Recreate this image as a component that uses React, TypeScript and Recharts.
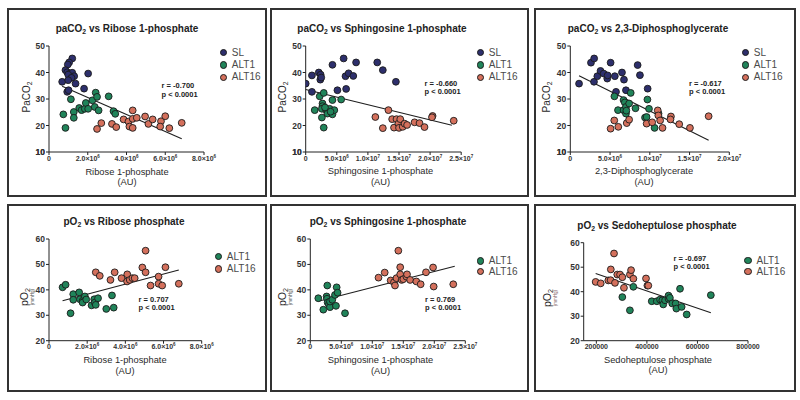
import React from 'react';
import { ScatterChart, Scatter, XAxis, YAxis, ReferenceLine } from 'recharts';

type Pair = [number, number];
type Pt = { x: number; y: number };

const FONT = '"Liberation Sans", Arial, Helvetica, sans-serif';
const C_SL = '#2d2f6c';
const C_ALT1 = '#20845a';
const C_ALT16 = '#d4705c';

// ---------- Panel 1: paCO2 vs Ribose 1-phosphate ----------
const p1SL: Pair[] = [
  [1.20e6, 45.3], [1.04e6, 43.8], [0.97e6, 43.0], [0.85e6, 40.9], [0.94e6, 40.1], [1.08e6, 39.6],
  [1.20e6, 39.9], [0.99e6, 39.2], [1.30e6, 38.6], [1.16e6, 38.0], [0.68e6, 36.5], [0.99e6, 37.1],
  [1.37e6, 35.8], [2.02e6, 39.6], [1.81e6, 33.9], [0.94e6, 32.7], [1.01e6, 33.3],
];
const p1ALT1: Pair[] = [
  [0.74e6, 24.2], [0.85e6, 19.1], [1.13e6, 29.9], [1.28e6, 25.1], [1.28e6, 22.9], [1.56e6, 26.6],
  [1.68e6, 25.8], [1.85e6, 26.3], [1.90e6, 28.5], [2.02e6, 26.3], [2.24e6, 29.5], [2.41e6, 32.4],
  [2.48e6, 30.8], [2.36e6, 27.0], [2.56e6, 25.7], [3.08e6, 31.0], [3.33e6, 25.4], [3.42e6, 24.4],
];
const p1ALT16: Pair[] = [
  [2.48e6, 18.7], [2.70e6, 20.9], [3.25e6, 20.6], [3.47e6, 19.4], [3.85e6, 22.3], [4.10e6, 21.5],
  [4.15e6, 19.6], [4.32e6, 19.1], [4.32e6, 25.7], [4.32e6, 22.5], [4.53e6, 22.9], [4.96e6, 23.4],
  [5.13e6, 20.6], [5.35e6, 22.3], [5.78e6, 21.6], [5.74e6, 19.6], [6.00e6, 23.5], [6.21e6, 19.0],
  [6.85e6, 21.0],
];
const p1Fit: Pair[] = [[0.68e6, 34.8], [6.85e6, 15.0]];

// ---------- Panel 2: paCO2 vs Sphingosine 1-phosphate ----------
const p2SL: Pair[] = [
  [0.0, 35.8], [1.0e6, 32.7], [1.0e6, 38.9], [2.1e6, 40.0], [2.4e6, 39.2], [2.35e6, 37.3],
  [2.5e6, 38.1], [4.3e6, 42.9], [5.1e6, 33.3], [6.1e6, 45.3], [6.5e6, 33.8], [6.4e6, 38.6],
  [6.9e6, 39.7], [7.65e6, 38.7], [8.1e6, 43.8], [11.5e6, 43.8], [12.4e6, 40.9], [14.5e6, 36.5],
];
const p2ALT1: Pair[] = [
  [1.45e6, 25.8], [2.25e6, 31.0], [2.9e6, 32.3], [2.7e6, 28.3], [2.7e6, 27.3], [2.6e6, 26.3],
  [2.6e6, 23.0], [2.9e6, 19.2], [3.3e6, 25.8], [3.5e6, 24.5], [3.85e6, 26.3], [4.3e6, 29.6],
  [4.3e6, 24.2], [4.6e6, 25.8], [5.7e6, 29.8], [3.1e6, 26.8], [4.0e6, 25.2],
];
const p2ALT16: Pair[] = [
  [11.2e6, 23.2], [12.4e6, 19.0], [13.3e6, 25.8], [13.9e6, 22.4], [14.2e6, 19.2], [14.6e6, 22.4],
  [14.9e6, 20.7], [15.0e6, 19.1], [15.2e6, 22.4], [15.6e6, 19.5], [15.9e6, 20.7], [16.3e6, 20.2],
  [17.5e6, 21.2], [18.3e6, 20.9], [19.1e6, 19.4], [20.4e6, 23.6], [20.3e6, 23.1], [23.8e6, 21.8],
];
const p2Fit: Pair[] = [[0.0, 33.6], [23.5e6, 20.1]];

// ---------- Panel 3: paCO2 vs 2,3-Diphosphoglycerate ----------
const p3SL: Pair[] = [
  [1.1e6, 35.8], [2.6e6, 43.7], [3.0e6, 45.3], [2.98e6, 36.5], [3.4e6, 38.6], [3.8e6, 40.6],
  [4.2e6, 39.6], [4.65e6, 37.7], [4.7e6, 38.9], [5.07e6, 43.7], [5.6e6, 38.6], [5.75e6, 32.7],
  [6.5e6, 40.0], [6.75e6, 37.3], [7.0e6, 33.3], [8.47e6, 42.8], [8.76e6, 39.0], [9.73e6, 33.9],
];
const p3ALT1: Pair[] = [
  [5.55e6, 31.0], [6.0e6, 25.8], [6.7e6, 29.6], [6.85e6, 28.7], [6.7e6, 25.8], [7.0e6, 24.5],
  [7.0e6, 27.0], [7.05e6, 25.6], [7.6e6, 32.3], [7.4e6, 28.3], [8.2e6, 26.5], [9.7e6, 29.8],
  [9.9e6, 26.3], [9.4e6, 23.0], [9.6e6, 23.2], [10.6e6, 19.1], [11.1e6, 24.5],
];
const p3ALT16: Pair[] = [
  [5.07e6, 18.8], [5.53e6, 21.9], [6.04e6, 19.5], [7.1e6, 20.9], [7.4e6, 22.2], [9.6e6, 20.7],
  [10.3e6, 21.2], [11.0e6, 25.7], [11.07e6, 23.8], [11.3e6, 21.9], [11.6e6, 19.1], [12.66e6, 23.4],
  [12.6e6, 22.3], [13.7e6, 20.5], [15.05e6, 19.1], [17.4e6, 23.5],
];
const p3Fit: Pair[] = [[1.1e6, 38.8], [17.4e6, 14.4]];

// ---------- Panel 4: pO2 vs Ribose phosphate ----------
const p4ALT1: Pair[] = [
  [0.71e6, 41.0], [0.87e6, 42.0], [1.13e6, 30.8], [1.27e6, 38.3], [1.27e6, 36.1], [1.58e6, 39.0],
  [1.62e6, 36.3], [1.76e6, 35.7], [1.76e6, 35.0], [1.88e6, 37.4], [1.95e6, 36.2], [2.23e6, 33.9],
  [2.37e6, 36.3], [2.40e6, 35.0], [2.45e6, 34.1], [2.57e6, 36.7], [3.0e6, 32.5], [3.3e6, 37.8],
  [3.39e6, 33.0],
];
const p4ALT16: Pair[] = [
  [2.45e6, 46.9], [2.66e6, 45.5], [3.22e6, 43.9], [3.44e6, 46.9], [3.8e6, 44.6], [4.1e6, 46.1],
  [4.09e6, 43.3], [4.23e6, 43.9], [4.37e6, 44.6], [4.49e6, 44.6], [4.89e6, 48.8], [5.06e6, 55.4],
  [5.06e6, 46.9], [5.32e6, 41.7], [5.74e6, 45.2], [5.74e6, 42.4], [5.93e6, 41.7], [6.1e6, 48.9],
  [6.8e6, 42.4],
];
const p4Fit: Pair[] = [[0.71e6, 35.7], [6.8e6, 47.8]];

// ---------- Panel 5: pO2 vs Sphingosine 1-phosphate ----------
const p5ALT1: Pair[] = [
  [1.29e6, 36.7], [2.1e6, 32.2], [2.63e6, 37.4], [2.7e6, 36.5], [2.74e6, 41.7], [2.8e6, 35.0],
  [3.0e6, 34.3], [3.17e6, 33.2], [3.17e6, 35.4], [3.55e6, 36.1], [3.98e6, 38.0], [4.14e6, 33.7],
  [4.25e6, 41.0], [4.4e6, 38.9], [5.6e6, 30.8],
];
const p5ALT16: Pair[] = [
  [11.0e6, 44.8], [12.0e6, 46.8], [12.96e6, 43.7], [13.5e6, 43.0], [13.66e6, 41.7], [13.9e6, 44.6],
  [14.2e6, 55.4], [14.5e6, 48.9], [14.5e6, 46.1], [14.73e6, 43.9], [15.0e6, 44.2], [15.5e6, 45.2],
  [15.6e6, 46.1], [16.1e6, 43.9], [17.1e6, 43.3], [17.8e6, 42.2], [18.66e6, 46.9], [19.8e6, 48.8],
  [19.9e6, 41.3], [23.06e6, 42.2],
];
const p5Fit: Pair[] = [[1.29e6, 35.5], [23.3e6, 49.3]];

// ---------- Panel 6: pO2 vs Sedoheptulose phosphate ----------
const p6ALT1: Pair[] = [
  [302800, 37.8], [332800, 32.4], [346500, 42.0], [419200, 36.1], [439200, 36.1], [452000, 36.8],
  [461000, 36.5], [464700, 34.8], [472000, 36.5], [485600, 37.1], [485600, 38.4], [491000, 37.5],
  [500200, 35.2], [513800, 35.2], [516500, 33.1], [531100, 41.2], [537500, 33.8], [557500, 30.7],
  [653000, 38.6],
];
const p6ALT16: Pair[] = [
  [197300, 44.0], [217300, 43.4], [247300, 44.6], [256400, 44.7], [257300, 49.1], [270000, 55.6],
  [273700, 43.6], [282800, 47.0], [293700, 47.0], [302800, 45.9], [309200, 41.6], [332800, 47.0],
  [337400, 48.8], [346500, 45.3], [396500, 45.4], [402000, 42.5], [405600, 42.5],
];
const p6Fit: Pair[] = [[197300, 47.4], [653000, 31.4]];

// ---------- Ticks ----------
const yTicksCO2 = [10, 20, 30, 40, 50];
const yTicksO2 = [20, 30, 40, 50, 60];
const xTicksRibose = [0, 2e6, 4e6, 6e6, 8e6];
const xTicksS1P = [0, 5e6, 1e7, 1.5e7, 2e7, 2.5e7];
const xTicksDPG = [0, 5e6, 1e7, 1.5e7, 2e7];
const xTicksSedo = [200000, 400000, 600000, 800000];

const toPts = (a: Pair[]): Pt[] => a.map(([x, y]) => ({ x, y }));

const SciTick = (props: any) => {
  const { x, y, payload } = props;
  const v = payload.value as number;
  const common = {
    x, y: y + 4.5, textAnchor: 'middle' as const, fontSize: 7, fontWeight: 700,
    fill: '#333', fontFamily: FONT,
  };
  if (v === 0) return <text {...common}>0</text>;
  const e = Math.floor(Math.log10(v) + 1e-9);
  const m = (v / Math.pow(10, e)).toFixed(1);
  return (
    <text {...common}>
      {m}×10<tspan dy={-3} fontSize={4.5}>{e}</tspan>
    </text>
  );
};

const PlainXTick = (props: any) => {
  const { x, y, payload } = props;
  return (
    <text x={x} y={y + 4.5} textAnchor="middle" fontSize={7} fontWeight={700} fill="#333" fontFamily={FONT}>
      {payload.value}
    </text>
  );
};

const YTick = (props: any) => {
  const { x, y, payload } = props;
  return (
    <text x={x} y={y + 3} textAnchor="end" fontSize={8.5} fontWeight={700} fill="#333" fontFamily={FONT}>
      {Math.round(payload.value)}
    </text>
  );
};

type Series = { name: string; data: Pair[]; color: string };
type PanelCfg = {
  box: [number, number, number, number];
  plot: [number, number, number, number];
  xDomain: [number, number];
  xTicks: number[];
  yTicks: number[];
  series: Series[];
  fit: Pair[];
  sci: boolean;
};

const YW = 30;
const XH = 20;

const dotShape = (color: string) => (p: any) => (
  <circle cx={p.cx} cy={p.cy} r={3.4} fill={color} stroke="#1b1b1b" strokeWidth={0.9} />
);

const Panel = ({ cfg }: { cfg: PanelCfg }) => {
  const [l, t, r, b] = cfg.box;
  const [x0, x1, y0, y1] = cfg.plot;
  const w = r - l;
  const h = b - t;
  const margin = { left: x0 - l - YW, right: r - x1, top: y0 - t, bottom: b - y1 - XH };
  const fit = toPts(cfg.fit);
  const yDomain = [cfg.yTicks[0], cfg.yTicks[cfg.yTicks.length - 1]];
  return (
    <>
      <div style={{ position: 'absolute', left: l, top: t, width: w, height: h }}>
        <ScatterChart width={w} height={h} margin={margin}>
          <XAxis
            type="number" dataKey="x" domain={cfg.xDomain} ticks={cfg.xTicks} interval={0}
            allowDataOverflow height={XH} tickSize={3} tickMargin={1}
            axisLine={{ stroke: '#222', strokeWidth: 1 }} tickLine={{ stroke: '#222', strokeWidth: 1 }}
            tick={cfg.sci ? <SciTick /> : <PlainXTick />}
          />
          <YAxis
            type="number" dataKey="y" domain={yDomain} tickCount={cfg.yTicks.length}
            allowDataOverflow width={YW} tickSize={3} tickMargin={1}
            axisLine={{ stroke: '#222', strokeWidth: 1 }} tickLine={{ stroke: '#222', strokeWidth: 1 }}
            tick={<YTick />}
          />
          <ReferenceLine
            segment={[fit[0], fit[1]]} stroke="#1e1e1e" strokeWidth={1.1} ifOverflow="visible"
          />
          {cfg.series.map((s) => (
            <Scatter key={s.name} name={s.name} data={toPts(s.data)} fill={s.color}
              shape={dotShape(s.color)} isAnimationActive={false} />
          ))}
        </ScatterChart>
      </div>
      <div style={{ position: 'absolute', left: l, top: t, width: w, height: h, boxSizing: 'border-box', border: '2px solid #333', pointerEvents: 'none' }} />
    </>
  );
};

const Txt = ({ x, y, size, weight = 400, color = '#222', anchor = 'middle', rotate = false, children }: any) => {
  const tx = anchor === 'middle' ? '-50%' : anchor === 'end' ? '-100%' : '0';
  return (
    <div
      style={{
        position: 'absolute', left: x, top: y,
        transform: `translate(${tx}, -50%)${rotate ? ' rotate(-90deg)' : ''}`,
        fontSize: size, fontWeight: weight, color, whiteSpace: 'nowrap', lineHeight: 1, fontFamily: FONT,
      }}
    >
      {children}
    </div>
  );
};

const Sub = ({ children }: any) => (
  <span style={{ fontSize: '68%', position: 'relative', top: '0.3em' }}>{children}</span>
);

const Legend = ({ x, items }: { x: number; items: { label: string; color: string; y: number }[] }) => (
  <>
    {items.map((it) => (
      <React.Fragment key={it.label}>
        <div style={{ position: 'absolute', left: x - 3.7, top: it.y - 3.7, width: 7.4, height: 7.4, boxSizing: 'border-box', borderRadius: '50%', background: it.color, border: '0.9px solid #1b1b1b' }} />
        <Txt x={x + 8.5} y={it.y} size={10} color="#4a4a4a" anchor="start">{it.label}</Txt>
      </React.Fragment>
    ))}
  </>
);

const panels: PanelCfg[] = [
  {
    box: [7, 8, 267, 197], plot: [49, 204, 46, 152], xDomain: [0, 8e6], xTicks: xTicksRibose,
    yTicks: yTicksCO2, fit: p1Fit, sci: true,
    series: [{ name: 'SL', data: p1SL, color: C_SL }, { name: 'ALT1', data: p1ALT1, color: C_ALT1 }, { name: 'ALT16', data: p1ALT16, color: C_ALT16 }],
  },
  {
    box: [270, 8, 529, 197], plot: [305.7, 461.2, 46, 152], xDomain: [0, 2.5e7], xTicks: xTicksS1P,
    yTicks: yTicksCO2, fit: p2Fit, sci: true,
    series: [{ name: 'SL', data: p2SL, color: C_SL }, { name: 'ALT1', data: p2ALT1, color: C_ALT1 }, { name: 'ALT16', data: p2ALT16, color: C_ALT16 }],
  },
  {
    box: [534, 8, 796, 197], plot: [570.3, 729.3, 46, 152], xDomain: [0, 2e7], xTicks: xTicksDPG,
    yTicks: yTicksCO2, fit: p3Fit, sci: true,
    series: [{ name: 'SL', data: p3SL, color: C_SL }, { name: 'ALT1', data: p3ALT1, color: C_ALT1 }, { name: 'ALT16', data: p3ALT16, color: C_ALT16 }],
  },
  {
    box: [7, 204, 267, 392], plot: [49, 201.7, 239, 340.7], xDomain: [0, 8e6], xTicks: xTicksRibose,
    yTicks: yTicksO2, fit: p4Fit, sci: true,
    series: [{ name: 'ALT1', data: p4ALT1, color: C_ALT1 }, { name: 'ALT16', data: p4ALT16, color: C_ALT16 }],
  },
  {
    box: [270, 204, 529, 392], plot: [310.3, 465.3, 239, 340.7], xDomain: [0, 2.5e7], xTicks: xTicksS1P,
    yTicks: yTicksO2, fit: p5Fit, sci: true,
    series: [{ name: 'ALT1', data: p5ALT1, color: C_ALT1 }, { name: 'ALT16', data: p5ALT16, color: C_ALT16 }],
  },
  {
    box: [534, 204, 796, 392], plot: [583.7, 748, 242.7, 340.7], xDomain: [150000, 800000], xTicks: xTicksSedo,
    yTicks: yTicksO2, fit: p6Fit, sci: false,
    series: [{ name: 'ALT1', data: p6ALT1, color: C_ALT1 }, { name: 'ALT16', data: p6ALT16, color: C_ALT16 }],
  },
];

const TS = 10;
const LS = 9.3;
const AS = 7.5;

export default function App() {
  return (
    <div style={{ position: 'absolute', left: 0, top: 0, width: 800, height: 400, background: '#fff', overflow: 'hidden', fontFamily: FONT }}>
      {panels.map((p, i) => <Panel key={i} cfg={p} />)}

      {/* Bottom y tick labels of the paCO2 panels */}
      <Txt x={45} y={152} size={8.5} weight={700} color="#333" anchor="end">{yTicksCO2[0]}</Txt>
      <Txt x={301.7} y={152} size={8.5} weight={700} color="#333" anchor="end">{yTicksCO2[0]}</Txt>
      <Txt x={566.3} y={152} size={8.5} weight={700} color="#333" anchor="end">{yTicksCO2[0]}</Txt>

      {/* Titles */}
      <Txt x={127} y={29} size={TS} weight={700}>paCO<Sub>2</Sub> vs Ribose 1-phosphate</Txt>
      <Txt x={382} y={29} size={TS} weight={700}>paCO<Sub>2</Sub> vs Sphingosine 1-phosphate</Txt>
      <Txt x={648} y={29} size={TS} weight={700}>paCO<Sub>2</Sub> vs 2,3-Diphosphoglycerate</Txt>
      <Txt x={124} y={222} size={TS} weight={700}>pO<Sub>2</Sub> vs Ribose phosphate</Txt>
      <Txt x={388} y={222} size={TS} weight={700}>pO<Sub>2</Sub> vs Sphingosine 1-phosphate</Txt>
      <Txt x={657} y={226} size={TS} weight={700}>pO<Sub>2</Sub> vs Sedoheptulose phosphate</Txt>

      {/* X axis labels */}
      <Txt x={127} y={172.5} size={LS} color="#2a2a2a">Ribose 1-phosphate</Txt>
      <Txt x={127} y={182.5} size={LS} color="#2a2a2a">(AU)</Txt>
      <Txt x={380.5} y={172} size={LS} color="#2a2a2a">Sphingosine 1-phosphate</Txt>
      <Txt x={380.5} y={182.5} size={LS} color="#2a2a2a">(AU)</Txt>
      <Txt x={644} y={172} size={LS} color="#2a2a2a">2,3-Diphosphoglycerate</Txt>
      <Txt x={644} y={182.5} size={LS} color="#2a2a2a">(AU)</Txt>
      <Txt x={125} y={361} size={LS} color="#2a2a2a">Ribose 1-phosphate</Txt>
      <Txt x={125} y={371.5} size={LS} color="#2a2a2a">(AU)</Txt>
      <Txt x={380.5} y={361} size={LS} color="#2a2a2a">Sphingosine 1-phosphate</Txt>
      <Txt x={380.5} y={371.5} size={LS} color="#2a2a2a">(AU)</Txt>
      <Txt x={658} y={360.5} size={LS} color="#2a2a2a">Sedoheptulose phosphate</Txt>
      <Txt x={658} y={370.5} size={LS} color="#2a2a2a">(AU)</Txt>

      {/* Y axis labels */}
      <Txt x={26.5} y={97} size={10} color="#2a2a2a" rotate>PaCO<Sub>2</Sub></Txt>
      <Txt x={283} y={97} size={10} color="#2a2a2a" rotate>PaCO<Sub>2</Sub></Txt>
      <Txt x={547} y={97} size={10} color="#2a2a2a" rotate>PaCO<Sub>2</Sub></Txt>
      <Txt x={25} y={297} size={10.5} color="#2a2a2a" rotate>pO<Sub>2</Sub></Txt>
      <Txt x={33} y={297} size={4.5} color="#555" rotate>(mmHg)</Txt>
      <Txt x={283} y={297} size={10.5} color="#2a2a2a" rotate>pO<Sub>2</Sub></Txt>
      <Txt x={291} y={297} size={4.5} color="#555" rotate>(mmHg)</Txt>
      <Txt x={547.5} y={298} size={10.5} color="#2a2a2a" rotate>pO<Sub>2</Sub></Txt>
      <Txt x={556} y={298} size={4.5} color="#8a6a6a" rotate>(mmHg)</Txt>

      {/* Annotations */}
      <Txt x={161.5} y={86} size={AS} weight={700} anchor="start">r = -0.700</Txt>
      <Txt x={161.5} y={94.5} size={AS} weight={700} anchor="start">p &lt; 0.0001</Txt>
      <Txt x={424.5} y={83.5} size={AS} weight={700} anchor="start">r = -0.660</Txt>
      <Txt x={424.5} y={92} size={AS} weight={700} anchor="start">p &lt; 0.0001</Txt>
      <Txt x={689} y={83.5} size={AS} weight={700} anchor="start">r = -0.617</Txt>
      <Txt x={689} y={92} size={AS} weight={700} anchor="start">p &lt; 0.0001</Txt>
      <Txt x={138.5} y={299.5} size={AS} weight={700} anchor="start">r = 0.707</Txt>
      <Txt x={138.5} y={308} size={AS} weight={700} anchor="start">p &lt; 0.0001</Txt>
      <Txt x={425} y={299.5} size={AS} weight={700} anchor="start">r = 0.769</Txt>
      <Txt x={425} y={308} size={AS} weight={700} anchor="start">p &lt; 0.0001</Txt>
      <Txt x={673.5} y={258.5} size={AS} weight={700} anchor="start">r = -0.697</Txt>
      <Txt x={673.5} y={266.5} size={AS} weight={700} anchor="start">p &lt; 0.0001</Txt>

      {/* Legends */}
      <Legend x={223.3} items={[{ label: 'SL', color: C_SL, y: 52.7 }, { label: 'ALT1', color: C_ALT1, y: 65 }, { label: 'ALT16', color: C_ALT16, y: 77.3 }]} />
      <Legend x={480.3} items={[{ label: 'SL', color: C_SL, y: 52.7 }, { label: 'ALT1', color: C_ALT1, y: 65 }, { label: 'ALT16', color: C_ALT16, y: 77.3 }]} />
      <Legend x={745.3} items={[{ label: 'SL', color: C_SL, y: 52.7 }, { label: 'ALT1', color: C_ALT1, y: 65 }, { label: 'ALT16', color: C_ALT16, y: 77.3 }]} />
      <Legend x={218.3} items={[{ label: 'ALT1', color: C_ALT1, y: 256.7 }, { label: 'ALT16', color: C_ALT16, y: 269 }]} />
      <Legend x={480.3} items={[{ label: 'ALT1', color: C_ALT1, y: 261 }, { label: 'ALT16', color: C_ALT16, y: 271.5 }]} />
      <Legend x={748} items={[{ label: 'ALT1', color: C_ALT1, y: 260.7 }, { label: 'ALT16', color: C_ALT16, y: 271.7 }]} />
    </div>
  );
}
